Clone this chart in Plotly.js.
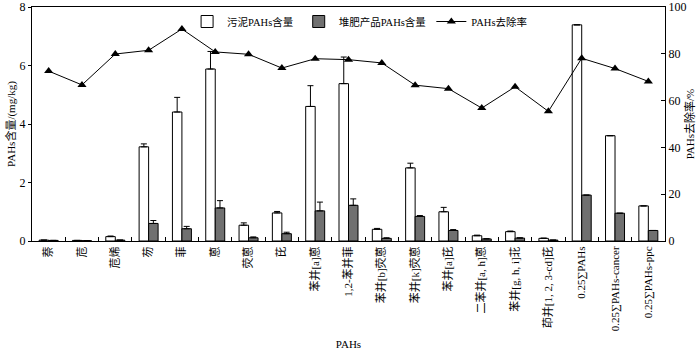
<!DOCTYPE html>
<html><head><meta charset="utf-8">
<script src="https://cdn.plot.ly/plotly-3.0.1.min.js"></script>
<style>html,body{margin:0;padding:0;background:#fff}#c{width:700px;height:351px}</style>
</head><body><div id="c"></div>
<script>
const categories = ["萘","苊","苊烯","芴","菲","蒽","荧蒽","芘","苯并[a]蒽","1,2-苯并菲","苯并[b]荧蒽","苯并[k]荧蒽","苯并[a]芘","二苯并[a, h]蒽","苯并[g, h, i]苝","茚并[1, 2, 3-cd]芘","0.25∑PAHs","0.25∑PAHs-cancer","0.25∑PAHs-ppc"];
const sludge = [0.03,0.02,0.15,3.22,4.41,5.88,0.54,0.96,4.60,5.38,0.40,2.50,1.00,0.18,0.32,0.09,7.39,3.60,1.20];
const sludgeErr = [0,0,0.02,0.10,0.50,0.60,0.08,0.05,0.71,0.91,0.03,0.16,0.15,0.02,0.02,0.01,0,0,0];
const compost = [0.02,0.01,0.03,0.60,0.42,1.13,0.11,0.25,1.03,1.22,0.09,0.84,0.36,0.07,0.10,0.03,1.57,0.95,0.36];
const compostErr = [0,0,0,0.10,0.08,0.25,0.03,0.05,0.30,0.22,0.02,0.03,0.03,0.01,0.01,0,0,0,0];
const removal = [72.6,66.7,79.9,81.5,90.6,80.8,79.8,73.9,77.9,77.5,76.1,66.6,65.1,56.8,65.9,55.4,78.1,73.7,68.2];

const font = "'Liberation Serif', 'Times New Roman', 'Noto Sans CJK SC', serif";
const zeros = categories.map(()=>0);
const traces = [
  {type:'bar', name:'污泥PAHs含量', x:categories, y:sludge,
   marker:{color:'#ffffff', line:{color:'#000', width:1}},
   error_y:{type:'data', array:sludgeErr, arrayminus:zeros, symmetric:false, color:'#000', thickness:1, width:3}},
  {type:'bar', name:'堆肥产品PAHs含量', x:categories, y:compost,
   marker:{color:'#707070', line:{color:'#000', width:1}},
   error_y:{type:'data', array:compostErr, arrayminus:zeros, symmetric:false, color:'#000', thickness:1, width:3}},
  {type:'scatter', mode:'lines+markers', name:'PAHs去除率', x:categories, y:removal, yaxis:'y2',
   line:{color:'#000', width:1}, marker:{symbol:'triangle-up', size:8, color:'#000'}}
];
const layout = {
  width:700, height:351,
  margin:{l:32, r:35, t:7, b:110},
  paper_bgcolor:'#fff', plot_bgcolor:'#fff',
  font:{family:font, size:11, color:'#000'},
  barmode:'group', bargap:0.43, bargroupgap:0,
  showlegend:true,
  legend:{orientation:'h', x:0.245, y:1, xanchor:'left', yanchor:'top', bgcolor:'rgba(0,0,0,0)', font:{size:10.5}, itemwidth:30, tracegroupgap:0},
  xaxis:{type:'category', range:[-0.5,18.5], tickangle:-90, ticks:'inside', ticklen:4, tickson:'boundaries', tickcolor:'#000',
    showline:true, linecolor:'#000', linewidth:1, mirror:true, showgrid:false, zeroline:false,
    tickfont:{size:11}, title:{text:'PAHs', font:{size:11}, standoff:10}},
  yaxis:{range:[0,8], tickvals:[0,2,4,6,8], ticks:'outside', ticklen:3, tickcolor:'#000', showline:true, linecolor:'#000', linewidth:1,
    showgrid:false, zeroline:false, tickfont:{size:12}, title:{text:'PAHs含量/(mg/kg)', font:{size:11}, standoff:1}},
  yaxis2:{range:[0,100], tickvals:[0,20,40,60,80,100], overlaying:'y', side:'right', ticks:'inside', ticklen:4, tickcolor:'#000',
    showline:true, linecolor:'#000', linewidth:1, showgrid:false, zeroline:false, tickfont:{size:12},
    title:{text:'PAHs去除率/%', font:{size:11}, standoff:0}}
};
Plotly.newPlot('c', traces, layout, {displayModeBar:false, staticPlot:true});
</script></body></html>
